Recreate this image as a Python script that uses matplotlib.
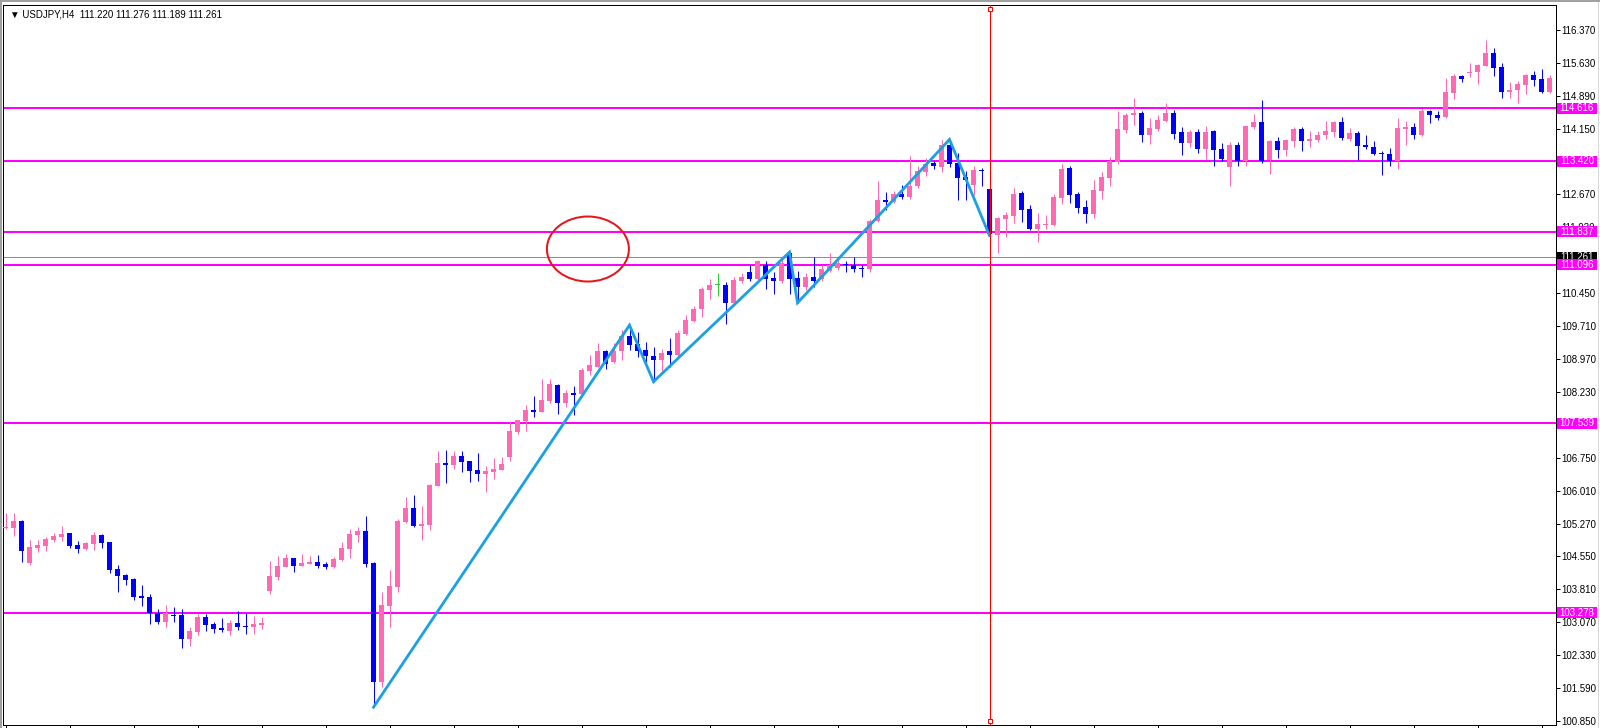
import numpy as np
import matplotlib.pyplot as plt
from matplotlib.lines import Line2D
from matplotlib.patches import Ellipse, Rectangle
from matplotlib.transforms import blended_transform_factory

plt.rcParams["font.family"] = ["Liberation Sans", "DejaVu Sans"]

### ---------- chart data (USDJPY H4) ---------- ###
header_text = "USDJPY,H4  111.220 111.276 111.189 111.261"

opens = [
    105.18, 105.19, 105.34, 104.40, 104.74, 104.79, 104.91, 104.99, 105.07, 104.80,
    104.71, 104.83, 105.03, 104.87, 104.26, 104.13, 104.04, 103.66, 103.63, 103.27,
    103.07, 103.24, 103.23, 102.69, 102.85, 103.18, 103.03, 102.94, 102.87, 103.05,
    102.99, 102.96, 103.00, 103.77, 104.08, 104.31, 104.51, 104.33, 104.38, 104.42,
    104.38, 104.31, 104.47, 104.71, 105.03, 105.12, 104.40, 101.72, 103.43, 103.86,
    105.33, 105.63, 105.24, 105.26, 106.13, 106.64, 106.61, 106.80, 106.69, 106.49,
    106.40, 106.45, 106.49, 106.79, 107.35, 107.59, 107.84, 107.80, 108.04, 108.40,
    108.00, 108.22, 108.19, 108.72, 108.81, 109.16, 108.92, 109.15, 109.50, 109.32,
    109.19, 109.05, 108.96, 109.15, 109.07, 109.55, 109.83, 110.10, 110.54, 110.64,
    110.65, 110.24, 110.73, 110.93, 110.78, 111.10, 110.81, 110.74, 111.36, 110.81,
    110.60, 110.83, 110.78, 110.96, 111.03, 111.10, 111.10, 111.03, 110.99, 112.09,
    112.55, 112.51, 112.69, 112.62, 112.87, 113.19, 113.39, 113.30, 113.79, 113.39,
    113.07, 112.89, 113.23, 112.80, 111.76, 112.13, 112.20, 112.71, 112.35, 111.91,
    111.99, 111.99, 112.60, 113.27, 112.69, 112.39, 112.24, 112.76, 113.05, 113.41,
    114.12, 114.45, 114.51, 114.00, 114.15, 114.33, 114.51, 114.08, 113.82, 114.08,
    113.70, 114.10, 113.70, 113.30, 113.79, 113.43, 114.20, 114.31, 113.45, 113.88,
    113.68, 113.88, 114.15, 113.88, 113.90, 114.01, 114.08, 114.30, 113.92, 114.06,
    113.79, 113.74, 113.61, 113.59, 113.43, 114.15, 114.19, 114.01, 114.55, 114.46,
    114.42, 114.96, 115.34, 115.41, 115.43, 115.57, 115.85, 115.54, 114.98, 115.01,
    115.13, 115.36, 115.27, 114.98,
]
highs = [
    105.51, 105.53, 105.36, 104.91, 104.91, 104.99, 105.08, 105.23, 105.08, 104.89,
    104.87, 105.09, 105.04, 104.88, 104.35, 104.14, 104.06, 103.90, 103.70, 103.37,
    103.45, 103.41, 103.37, 102.96, 103.25, 103.25, 103.07, 103.16, 103.12, 103.32,
    103.28, 103.21, 103.18, 104.44, 104.56, 104.60, 104.52, 104.60, 104.56, 104.58,
    104.42, 104.53, 104.87, 105.16, 105.21, 105.45, 104.41, 103.75, 104.24, 105.39,
    105.88, 105.93, 105.68, 106.17, 106.91, 106.94, 106.91, 106.91, 106.70, 106.87,
    106.58, 106.76, 106.79, 107.59, 107.62, 107.95, 108.15, 108.53, 108.53, 108.42,
    108.28, 108.37, 108.78, 109.07, 109.34, 109.18, 109.34, 109.63, 109.74, 109.59,
    109.36, 109.26, 109.21, 109.46, 109.63, 109.97, 110.17, 110.60, 110.78, 110.91,
    110.72, 110.83, 110.92, 111.10, 111.20, 111.19, 110.94, 111.26, 111.38, 110.96,
    110.92, 111.26, 111.08, 111.35, 111.27, 111.19, 111.26, 111.08, 112.12, 112.98,
    112.73, 112.76, 112.89, 113.55, 113.32, 113.50, 113.43, 113.90, 113.91, 113.61,
    113.21, 113.32, 113.27, 112.98, 112.18, 112.27, 112.81, 112.76, 112.44, 112.25,
    112.22, 112.69, 113.36, 113.32, 112.73, 112.55, 112.99, 113.18, 113.51, 114.55,
    114.51, 114.84, 114.55, 114.39, 114.46, 114.73, 114.57, 114.19, 114.12, 114.15,
    114.22, 114.12, 113.83, 113.86, 113.85, 114.22, 114.49, 114.80, 113.90, 113.97,
    113.91, 114.18, 114.19, 114.10, 114.10, 114.33, 114.33, 114.42, 114.17, 114.10,
    114.01, 113.88, 113.64, 113.72, 114.40, 114.33, 114.27, 114.59, 114.57, 114.55,
    115.29, 115.38, 115.36, 115.63, 115.61, 116.15, 115.97, 115.63, 115.19, 115.22,
    115.38, 115.45, 115.49, 115.36,
]
lows = [
    105.16, 105.00, 104.43, 104.35, 104.64, 104.67, 104.87, 104.89, 104.73, 104.62,
    104.69, 104.70, 104.73, 104.17, 103.75, 103.91, 103.57, 103.43, 103.03, 103.03,
    102.97, 103.08, 102.49, 102.53, 102.78, 102.87, 102.83, 102.85, 102.78, 102.89,
    102.80, 102.80, 102.92, 103.70, 104.02, 104.30, 104.20, 104.32, 104.37, 104.29,
    104.26, 104.29, 104.44, 104.51, 104.87, 104.31, 101.16, 101.61, 102.96, 103.75,
    105.30, 105.21, 104.92, 105.15, 106.12, 106.20, 106.52, 106.45, 106.22, 106.25,
    106.00, 106.29, 106.48, 106.70, 107.30, 107.37, 107.68, 107.79, 108.00, 107.75,
    107.91, 107.73, 108.17, 108.63, 108.80, 108.76, 108.90, 108.96, 109.19, 109.03,
    108.83, 108.47, 108.72, 108.81, 109.02, 109.52, 109.81, 109.93, 110.33, 110.40,
    109.77, 110.17, 110.69, 110.73, 110.71, 110.56, 110.45, 110.69, 110.45, 110.24,
    110.53, 110.60, 110.73, 110.93, 110.98, 110.94, 110.94, 110.83, 110.94, 112.06,
    112.33, 112.48, 112.57, 112.57, 112.82, 113.10, 113.25, 113.19, 113.30, 112.56,
    112.56, 112.66, 112.87, 111.75, 111.35, 111.73, 112.04, 112.06, 111.88, 111.61,
    111.89, 111.97, 112.45, 112.49, 112.26, 112.04, 112.15, 112.58, 112.87, 113.36,
    114.06, 114.24, 113.85, 113.81, 114.10, 114.30, 113.93, 113.57, 113.75, 113.60,
    113.47, 113.32, 113.43, 112.87, 113.32, 113.32, 114.15, 113.38, 113.14, 113.50,
    113.55, 113.73, 113.66, 113.73, 113.85, 113.92, 113.97, 113.90, 113.88, 113.45,
    113.70, 113.57, 113.12, 113.32, 113.25, 113.79, 113.92, 113.99, 114.29, 114.35,
    114.40, 114.83, 115.19, 115.32, 115.16, 115.55, 115.34, 114.85, 114.85, 114.74,
    114.92, 115.12, 114.96, 114.96,
]
closes = [
    105.21, 105.34, 104.67, 104.76, 104.80, 104.93, 105.00, 105.05, 104.78, 104.71,
    104.85, 105.03, 104.85, 104.24, 104.11, 104.02, 103.63, 103.61, 103.28, 103.07,
    103.28, 103.21, 102.69, 102.87, 103.18, 103.00, 102.92, 102.89, 103.05, 102.96,
    102.97, 103.03, 103.05, 104.11, 104.33, 104.51, 104.33, 104.40, 104.42, 104.33,
    104.31, 104.49, 104.73, 105.05, 105.12, 104.38, 101.72, 103.45, 103.88, 105.34,
    105.63, 105.24, 105.27, 106.15, 106.64, 106.61, 106.80, 106.67, 106.47, 106.40,
    106.46, 106.52, 106.63, 107.37, 107.61, 107.83, 107.80, 108.06, 108.42, 108.00,
    108.22, 108.18, 108.73, 108.85, 109.16, 108.87, 109.16, 109.50, 109.30, 109.17,
    109.05, 108.96, 109.12, 109.08, 109.56, 109.86, 110.10, 110.55, 110.65, 110.64,
    110.24, 110.75, 110.83, 110.78, 111.17, 110.78, 110.74, 111.14, 110.78, 110.60,
    110.83, 110.74, 110.99, 111.08, 111.14, 111.08, 111.01, 111.00, 112.09, 112.55,
    112.51, 112.69, 112.62, 112.87, 113.20, 113.37, 113.32, 113.79, 113.37, 113.05,
    112.99, 113.23, 113.20, 111.78, 112.15, 112.22, 112.69, 112.33, 111.90, 112.01,
    112.01, 112.62, 113.25, 112.67, 112.36, 112.24, 112.78, 113.07, 113.42, 114.15,
    114.46, 114.51, 114.00, 114.17, 114.35, 114.51, 114.04, 113.82, 114.08, 113.70,
    114.08, 113.68, 113.48, 113.79, 113.43, 114.21, 114.31, 113.43, 113.88, 113.68,
    113.90, 114.15, 113.88, 113.92, 114.01, 114.10, 114.31, 113.95, 114.06, 113.77,
    113.73, 113.59, 113.58, 113.43, 114.17, 114.19, 114.02, 114.55, 114.45, 114.40,
    114.98, 115.34, 115.27, 115.43, 115.58, 115.85, 115.52, 114.98, 115.02, 115.16,
    115.36, 115.25, 114.98, 115.29,
]

### horizontal levels drawn by hand, and the current bid line
levels = [114.616, 113.420, 111.837, 111.096, 107.539, 103.278]
level_labels = ["114.616", "113.420", "111.837", "111.096", "107.539", "103.278"]
bid = 111.261
bid_label = "111.261"

### zigzag swing points (bar index, which extreme)
zigzag_bars = [46, 78, 81, 98, 99, 118, 123]
zigzag_side = ["low", "high", "low", "high", "low", "high", "low"]

### bar under the vertical cursor line
cursor_bar = 123

### price scale labels, top to bottom
price_tick_labels = [
    "116.370", "115.630", "114.890", "114.150", "113.410", "112.670", "111.930",
    "111.190", "110.450", "109.710", "108.970", "108.230", "107.490", "106.750",
    "106.010", "105.270", "104.550", "103.810", "103.070", "102.330", "101.590",
    "100.850",
]
### -------------------------------------- ###

# %%
### ---------- plotting ---------- ###
W, H = 1600, 728
BULL = "#ff69b4"
BEAR = "#0000ff"
DOJI = "#32cd32"
MAGENTA = "#ff00ff"
ZIGZAG = "#1ba1e2"
PX = 72 / 100  # one pixel in points at dpi=100
FS = 7.0

fig = plt.figure(figsize=(W / 100, H / 100), dpi=100)
fig.patch.set_facecolor("white")
# plot area: x 3..1555.5 px, y 5..725 px (from top)
ax = fig.add_axes([3 / W, 3 / H, 1552.5 / W, 720 / H])
ax.set_xlim(-0.3125, 193.75)
ax.set_ylim(100.76, 116.93)
px_per_price = 720 / (116.93 - 100.76)

o = np.array(opens)
h = np.array(highs)
l = np.array(lows)
c = np.array(closes)
x = np.arange(len(o))

colors = np.where(c > o, BULL, np.where(c < o, BEAR, DOJI))
body_bottom = np.minimum(o, c)
body_height = np.maximum(np.abs(c - o), 1.0 / px_per_price)

ax.vlines(x, l, h, colors=colors, linewidth=PX, zorder=3)
ax.bar(x, body_height, bottom=body_bottom, width=5 / 8, color=colors,
       linewidth=0, zorder=3)

# hand drawn levels
for lev in levels:
    ax.axhline(lev, color=MAGENTA, linewidth=2 * PX, zorder=2)
ax.axhline(bid, color="#87909a", linewidth=PX, zorder=2)

# zigzag
zz_y = [l[i] if s == "low" else h[i] for i, s in zip(zigzag_bars, zigzag_side)]
ax.plot(zigzag_bars, zz_y, color=ZIGZAG, linewidth=2.8 * PX, zorder=4,
        solid_joinstyle="miter")

# red ellipse annotation
ax.add_patch(Ellipse((72.8, 111.45), 10.25, 1.46, fill=False,
                     edgecolor="#e8141c", linewidth=2 * PX, zorder=5))

# vertical cursor line with small squares at the ends
ax.axvline(cursor_bar, color="#ff0000", linewidth=PX, zorder=5)
tr_xa = blended_transform_factory(ax.transData, ax.transAxes)
ax.plot([cursor_bar, cursor_bar], [1 - 4 / 720, 4 / 720], linestyle="none",
        marker="s", markersize=4 * PX, markerfacecolor="white",
        markeredgecolor="#ff0000", markeredgewidth=PX, transform=tr_xa,
        clip_on=False, zorder=6)

# axes frame and ticks
for sp in ax.spines.values():
    sp.set_color("black")
    sp.set_linewidth(PX)
ax.yaxis.tick_right()
ax.set_yticks(np.linspace(116.37, 100.85, len(price_tick_labels)))
ax.set_yticklabels(price_tick_labels)
ax.tick_params(axis="y", direction="out", length=4 * PX, width=PX, pad=1.5 * PX,
               labelsize=FS, colors="black")
ax.set_xticks(np.arange(0, len(o), 8))
ax.tick_params(axis="x", direction="out", length=3 * PX, width=PX,
               labelbottom=False)

# price labels on the scale
tr_fy = blended_transform_factory(fig.transFigure, ax.transData)
box_h = 11 / px_per_price


def price_box(price, text, face, z):
    ax.add_patch(Rectangle((1557 / W, price - box_h / 2), 40 / W, box_h,
                           facecolor=face, edgecolor="none", transform=tr_fy,
                           clip_on=False, zorder=z))
    ax.text(1577 / W, price, text, color="white", fontsize=FS, ha="center",
            va="center", transform=tr_fy, clip_on=False, zorder=z + 0.5)


price_box(bid, bid_label, "black", 6)
for lev, lab in zip(levels, level_labels):
    price_box(lev, lab, MAGENTA, 7)

# header text
fig.text(10 / W, 1 - 14.5 / H, "\u25bc " + header_text, fontsize=FS,
         ha="left", va="center", color="black")

# window edges
fig.add_artist(Line2D([0, 1], [1 - 1 / H, 1 - 1 / H], color="#a0a0a0",
                      linewidth=2 * PX, transform=fig.transFigure))
fig.add_artist(Line2D([1 / W, 1 / W], [0, 1], color="#a0a0a0",
                      linewidth=2 * PX, transform=fig.transFigure))
fig.add_artist(Line2D([1598 / W, 1598 / W], [0, 1], color="#b0b0b0",
                      linewidth=PX, linestyle=(0, (1, 1)),
                      transform=fig.transFigure))

fig.savefig("out.png", dpi=100)
